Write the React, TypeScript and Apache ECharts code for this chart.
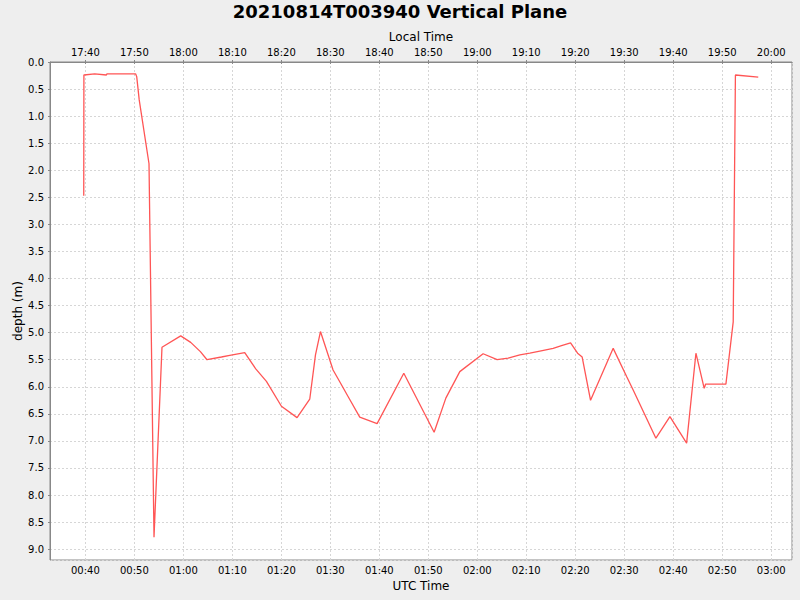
import React, { useEffect, useRef } from 'react';
import * as echarts from 'echarts';

// 时间：UTC 当天分钟数；深度：米
const TIMES = [
  39.67, 39.7, 41.9, 44.29, 44.41, 50.27, 50.48, 50.99, 52.99, 54.01,
  55.64, 59.46, 61.5, 63.48, 64.83, 67.77, 69.47, 72.53, 74.78, 76.96,
  80.02, 83.21, 85.8, 86.97, 87.99, 90.56, 92.07, 93.62, 96.01, 99.55,
  105.0, 111.19, 113.58, 116.43, 121.19, 124.05, 126.3, 128.69, 130.73, 132.77,
  135.49, 137.2, 139.04, 140.47, 141.41, 143.12, 147.74, 150.48, 151.82, 156.46,
  159.32, 162.73, 164.63, 166.32, 166.61, 170.75, 172.24, 172.69, 177.35,
];
const DEPTHS = [
  2.47, 0.24, 0.22, 0.24, 0.22, 0.22, 0.27, 0.7, 1.88, 8.78,
  5.27, 5.06, 5.18, 5.35, 5.5, 5.45, 5.42, 5.37, 5.67, 5.9,
  6.36, 6.57, 6.23, 5.41, 4.98, 5.69, 5.93, 6.18, 6.56, 6.68,
  5.75, 6.84, 6.21, 5.72, 5.39, 5.5, 5.47, 5.41, 5.38, 5.34,
  5.29, 5.24, 5.19, 5.38, 5.45, 6.25, 5.29, 5.81, 6.06, 6.95,
  6.55, 7.04, 5.38, 6.03, 5.95, 5.95, 4.8, 0.24, 0.28,
];

const TITLE = '20210814T003940 Vertical Plane';
const X_RANGE = [32.78, 184.24];
const Y_RANGE = [0, 9.2];
const LOCAL_OFFSET_MIN = -7 * 60;

const FONT = 'DejaVu Sans';

const fmtClock = (v: number) => {
  const m = ((Math.round(v) % 1440) + 1440) % 1440;
  const hh = String(Math.floor(m / 60)).padStart(2, '0');
  const mm = String(m % 60).padStart(2, '0');
  return `${hh}:${mm}`;
};

const gridLine = { show: true, lineStyle: { color: '#d6d6d6', width: 1, type: [2, 2] } };
const axisLine = { show: true, lineStyle: { color: '#888888', width: 1 } };
const axisTick = { show: true, length: 2, lineStyle: { color: '#888888' } };

export default function App() {
  const ref = useRef<HTMLDivElement>(null);

  useEffect(() => {
    if (!ref.current) return;
    const chart = echarts.init(ref.current, null, { renderer: 'svg' });

    const baseX = {
      type: 'value',
      min: X_RANGE[0],
      max: X_RANGE[1],
      splitNumber: 15,
      minInterval: 10,
      maxInterval: 10,
      nameLocation: 'middle',
      nameMoveOverlap: false,
      nameTextStyle: { fontFamily: FONT, fontSize: 12, color: '#000' },
      axisLine,
      axisTick,
    };

    chart.setOption({
      animation: false,
      backgroundColor: '#eeeeee',
      textStyle: { fontFamily: FONT },
      title: {
        text: TITLE,
        left: 'center',
        top: 0,
        padding: [2, 5, 5, 5],
        textStyle: { fontFamily: FONT, fontSize: 18, fontWeight: 'bold', color: '#000' },
      },
      grid: {
        left: 50,
        right: 8,
        top: 62,
        bottom: 40,
        containLabel: false,
        outerBoundsMode: 'none',
        show: true,
        backgroundColor: '#ffffff',
        borderColor: '#888888',
        borderWidth: 1,
      },
      xAxis: [
        {
          ...baseX,
          position: 'bottom',
          name: 'UTC Time',
          nameGap: 20,
          splitLine: gridLine,
          axisLabel: {
            fontFamily: FONT,
            fontSize: 10,
            color: '#000',
            margin: 5,
            showMinLabel: false,
            showMaxLabel: false,
            formatter: (v: number) => fmtClock(v),
          },
        },
        {
          ...baseX,
          position: 'top',
          name: 'Local Time',
          nameGap: 19,
          splitLine: { show: false },
          axisLabel: {
            fontFamily: FONT,
            fontSize: 10,
            color: '#000',
            margin: 5,
            showMinLabel: false,
            showMaxLabel: false,
            formatter: (v: number) => fmtClock(v + LOCAL_OFFSET_MIN),
          },
        },
      ],
      yAxis: {
        type: 'value',
        inverse: true,
        min: Y_RANGE[0],
        max: Y_RANGE[1],
        interval: 0.5,
        name: 'depth (m)',
        nameLocation: 'middle',
        nameGap: 26,
        nameMoveOverlap: false,
        nameTextStyle: { fontFamily: FONT, fontSize: 12, color: '#000' },
        axisLine,
        axisTick,
        splitLine: gridLine,
        axisLabel: {
          fontFamily: FONT,
          fontSize: 10,
          color: '#000',
          margin: 6,
          showMaxLabel: false,
          formatter: (v: number) => v.toFixed(1),
        },
      },
      series: [
        {
          type: 'line',
          xAxisIndex: 0,
          data: TIMES.map((t, i) => [t, DEPTHS[i]]),
          showSymbol: false,
          symbol: 'none',
          lineStyle: { color: '#ff5555', width: 1.3 },
        },
      ],
    });

    return () => chart.dispose();
  }, []);

  return (
    <div
      ref={ref}
      style={{ position: 'absolute', left: 0, top: 0, width: 800, height: 600 }}
    />
  );
}
